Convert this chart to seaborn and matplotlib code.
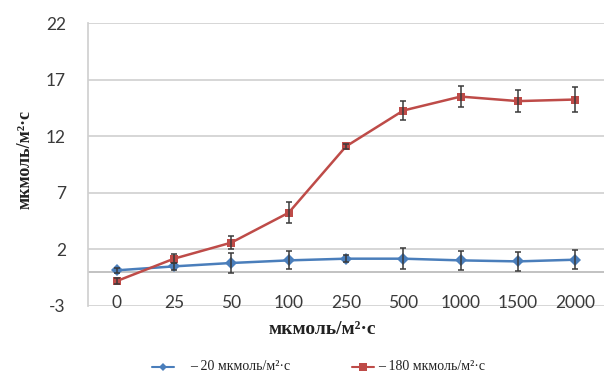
import numpy as np
import pandas as pd
import matplotlib
matplotlib.use("Agg")
import matplotlib.pyplot as plt
import seaborn as sns
from matplotlib.lines import Line2D

categories = ["0", "25", "50", "100", "250", "500", "1000", "1500", "2000"]
low_vals = [0.15, 0.5, 0.8, 1.03, 1.18, 1.18, 1.03, 0.94, 1.09]
low_err = [0.2, 0.3, 0.9, 0.8, 0.3, 0.93, 0.84, 0.85, 0.84]
high_vals = [-0.8, 1.18, 2.6, 5.24, 11.1, 14.27, 15.5, 15.1, 15.24]
high_err = [0.3, 0.4, 0.6, 0.95, 0.2, 0.85, 0.9, 1.0, 1.1]
series_names = ["– 20 мкмоль/м²·с", "– 180 мкмоль/м²·с"]
yticks = [-3, 2, 7, 12, 17, 22]
axis_label = "мкмоль/м²·с"

sns.set_theme(style="white")
plt.rcParams['font.family'] = ['Lato', 'DejaVu Sans']
plt.rcParams['axes.unicode_minus'] = False

blue = "#4a7ebb"
red = "#be4b48"
errc = "#3a3a3a"

n = len(categories)
pos = list(range(n))
df = pd.DataFrame({
    "x": pos + pos,
    "y": low_vals + high_vals,
    "series": [series_names[0]] * n + [series_names[1]] * n,
})

fig = plt.figure(figsize=(6.05, 3.79), dpi=100)
ax = fig.add_axes([88/605, 1-306/379, 516/605, 283/379])

for v in yticks:
    ax.axhline(v, color="#d0d0d0", lw=1.2, zorder=0)
ax.axhline(0, color="#b8b8b8", lw=1.2, zorder=0)

sns.lineplot(data=df, x="x", y="y", hue="series", style="series",
             palette={series_names[0]: blue, series_names[1]: red},
             markers={series_names[0]: "D", series_names[1]: "s"},
             dashes=False, markersize=6, linewidth=1.8, legend=False,
             markeredgewidth=0, ax=ax, zorder=3)

ax.errorbar(pos, low_vals, yerr=low_err, fmt="none", ecolor=errc, elinewidth=1.1,
            capsize=2.5, capthick=1.1, zorder=4)
ax.errorbar(pos, high_vals, yerr=high_err, fmt="none", ecolor=errc, elinewidth=1.1,
            capsize=2.5, capthick=1.1, zorder=4)

ax.set_xlim(-0.5, n - 0.5)
ax.set_ylim(-3, 22)
ax.set_xticks(pos)
ax.set_xticklabels(categories)
ax.set_yticks(yticks)
ax.tick_params(axis="x", length=0, pad=-8, labelsize=12.5)
ax.tick_params(axis="y", length=0, pad=16, labelsize=12.5)
for lbl in ax.get_xticklabels() + ax.get_yticklabels():
    lbl.set_color("#3a3a3a")
for s in ["top", "right", "bottom"]:
    ax.spines[s].set_visible(False)
ax.spines["left"].set_color("#d0d0d0")
ax.set_xlabel("")
ax.set_ylabel("")

fig.text(25/605, 1-160/379, axis_label, rotation=90, ha="center", va="center",
         fontsize=13, fontweight="bold", family=["Liberation Serif"], color="#222222")
fig.text(322/605, 1-330/379, axis_label, ha="center", va="center",
         fontsize=14, fontweight="bold", family=["Liberation Serif"], color="#222222")

# legend drawn manually at the reference position
ly = 1 - 367/379
for (x0, x1, tx), col, mk, ms, name in [
        ((152, 174, 190), blue, "D", 4, series_names[0]),
        ((352, 374, 378), red, "s", 6, series_names[1])]:
    fig.add_artist(Line2D([x0/605, x1/605], [ly, ly], transform=fig.transFigure,
                          color=col, lw=1.5))
    fig.add_artist(Line2D([(x0 + x1)/2/605], [ly], transform=fig.transFigure,
                          color=col, marker=mk, markersize=ms, markeredgewidth=0, lw=0))
    fig.text(tx/605, ly, name, ha="left", va="center", fontsize=10,
             family=["Liberation Serif"], color="#222222")

fig.savefig("out.png", dpi=100)
